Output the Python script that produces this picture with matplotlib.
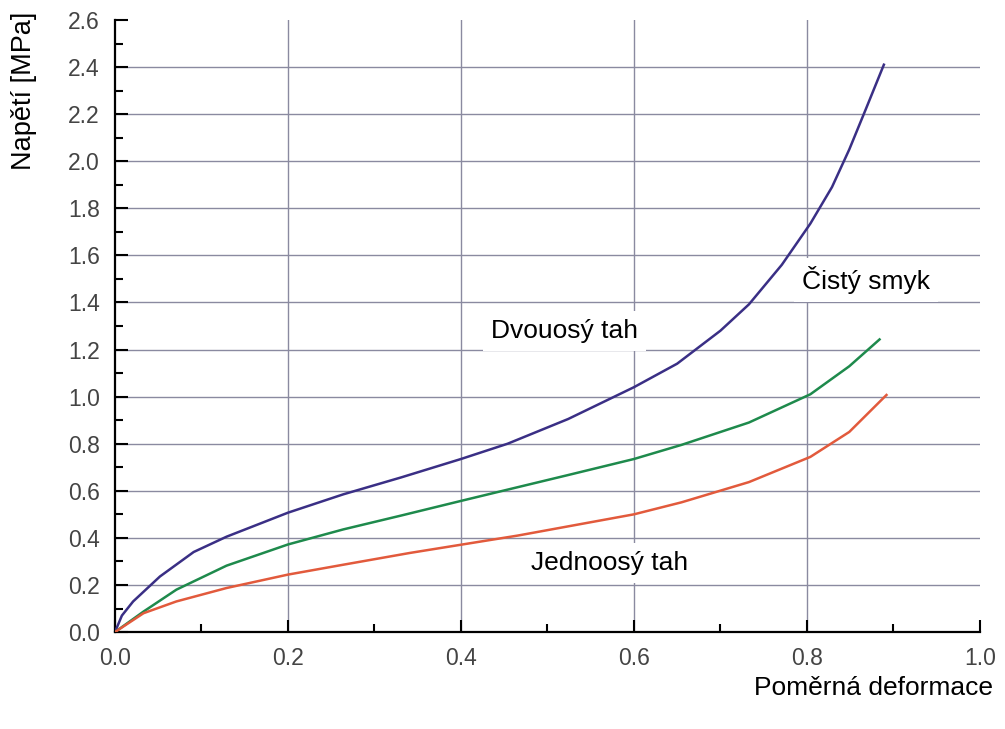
import numpy as np
import matplotlib
matplotlib.use("Agg")
import matplotlib.pyplot as plt
from matplotlib.ticker import MultipleLocator

plt.rcParams["font.family"] = ["Liberation Sans", "DejaVu Sans"]

# strain / stress values
x_dvou = [0.0, 0.008, 0.021, 0.052, 0.091, 0.129, 0.2, 0.264, 0.331, 0.4, 0.454,
          0.524, 0.6, 0.65, 0.7, 0.733, 0.771, 0.804, 0.829, 0.849, 0.868, 0.889]
y_dvou = [0.0, 0.07, 0.13, 0.236, 0.34, 0.405, 0.507, 0.585, 0.657, 0.735, 0.80,
          0.905, 1.04, 1.14, 1.28, 1.392, 1.56, 1.735, 1.89, 2.05, 2.22, 2.41]

x_smyk = [0.0, 0.033, 0.071, 0.129, 0.2, 0.264, 0.331, 0.4, 0.454, 0.524, 0.6,
          0.655, 0.733, 0.804, 0.849, 0.884]
y_smyk = [0.0, 0.087, 0.18, 0.282, 0.372, 0.436, 0.495, 0.557, 0.605, 0.667, 0.735,
          0.795, 0.89, 1.01, 1.129, 1.243]

x_jedn = [0.0, 0.033, 0.071, 0.129, 0.2, 0.264, 0.341, 0.466, 0.6, 0.655, 0.733,
          0.804, 0.849, 0.892]
y_jedn = [0.0, 0.08, 0.13, 0.187, 0.244, 0.286, 0.336, 0.41, 0.50, 0.551, 0.637,
          0.744, 0.85, 1.007]

labels = ["Dvouosý tah", "Čistý smyk", "Jednoosý tah"]
label_pos = [(0.52, 1.28), (0.868, 1.495), (0.572, 0.293)]

fig = plt.figure(figsize=(10.05, 7.29), dpi=100)
ax = fig.add_axes([0.1144, 0.133, 0.8606, 0.8396])

grid_col = "#8a8aa0"
ax.set_xlim(0, 1.0)
ax.set_ylim(0, 2.6)
ax.xaxis.set_major_locator(MultipleLocator(0.2))
ax.xaxis.set_minor_locator(MultipleLocator(0.1))
ax.yaxis.set_major_locator(MultipleLocator(0.2))
ax.yaxis.set_minor_locator(MultipleLocator(0.1))

# grid, skipping the outer edges
for gx in [0.2, 0.4, 0.6, 0.8]:
    ax.axvline(gx, color=grid_col, lw=1.0, zorder=1)
for gy in np.arange(0.2, 2.41, 0.2):
    ax.axhline(gy, color=grid_col, lw=1.0, zorder=1)

ax.plot(x_dvou, y_dvou, color="#3a2f85", lw=1.8, zorder=3)
ax.plot(x_smyk, y_smyk, color="#1e8a4c", lw=1.8, zorder=3)
ax.plot(x_jedn, y_jedn, color="#e25a3c", lw=1.8, zorder=3)

for txt, (tx, ty) in zip(labels, label_pos):
    ax.text(tx, ty, txt, fontsize=19, ha="center", va="center", color="black", zorder=4,
            bbox=dict(boxstyle="square,pad=0.3", facecolor="white", edgecolor="none"))

for s in ["top", "right"]:
    ax.spines[s].set_visible(False)
for s in ["left", "bottom"]:
    ax.spines[s].set_linewidth(1.6)

ax.xaxis.set_major_formatter(plt.FuncFormatter(lambda v, p: f"{v:.1f}"))
ax.yaxis.set_major_formatter(plt.FuncFormatter(lambda v, p: f"{v:.1f}"))
ax.tick_params(which="major", direction="in", length=9, width=1.5, labelsize=16.5,
               labelcolor="#444444", pad=11)
ax.tick_params(which="minor", direction="in", length=6, width=1.5)

fig.text(24 / 1005, 1 - 91 / 729, "Napětí [MPa]", rotation=90, fontsize=19.5,
         ha="center", va="center")
fig.text(993 / 1005, 1 - 688 / 729, "Poměrná deformace", fontsize=19,
         ha="right", va="center")

fig.savefig("out.png", dpi=100, facecolor="white")
